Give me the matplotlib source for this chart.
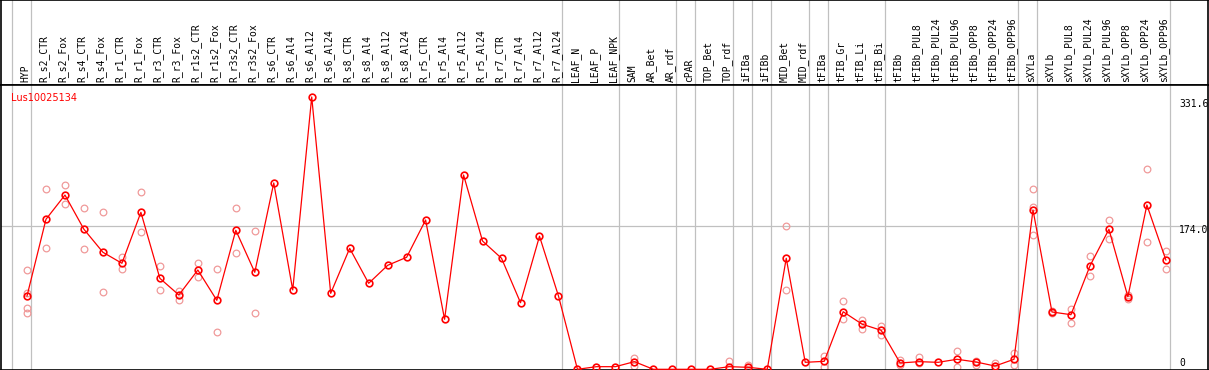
import numpy as np
import matplotlib
matplotlib.use("Agg")
import matplotlib.pyplot as plt

# --- andmed ---
gene = "Lus10025134"
samples = [
    "HYP", "R_s2_CTR", "R_s2_Fox", "R_s4_CTR", "R_s4_Fox", "R_r1_CTR", "R_r1_Fox",
    "R_r3_CTR", "R_r3_Fox", "R_r1s2_CTR", "R_r1s2_Fox", "R_r3s2_CTR", "R_r3s2_Fox",
    "R_s6_CTR", "R_s6_Al4", "R_s6_Al12", "R_s6_Al24", "R_s8_CTR", "R_s8_Al4",
    "R_s8_Al12", "R_s8_Al24", "R_r5_CTR", "R_r5_Al4", "R_r5_Al12", "R_r5_Al24",
    "R_r7_CTR", "R_r7_Al4", "R_r7_Al12", "R_r7_Al24", "LEAF_N", "LEAF_P", "LEAF_NPK",
    "SAM", "AR_Bet", "AR_rdf", "cPAR", "TOP_Bet", "TOP_rdf", "iFIBa", "iFIBb",
    "MID_Bet", "MID_rdf", "tFIBa", "tFIB_Gr", "tFIB_Li", "tFIB_Bi", "tFIBb",
    "tFIBb_PUL8", "tFIBb_PUL24", "tFIBb_PUL96", "tFIBb_OPP8", "tFIBb_OPP24",
    "tFIBb_OPP96", "sXYLa", "sXYLb", "sXYLb_PUL8", "sXYLb_PUL24", "sXYLb_PUL96",
    "sXYLb_OPP8", "sXYLb_OPP24", "sXYLb_OPP96",
]

means = [
    89.3, 182.7, 212.2, 170.5, 142.5, 129.1, 191.2, 110.8, 90.5, 120.9, 84.0, 169.3, 118.1,
    226.9, 96.6, 331.6, 92.5, 147.3, 104.7, 126.6, 136.4, 181.8, 60.9, 236.6, 156.2,
    135.2, 81.1, 162.0, 89.3, 0.0, 3.2, 3.2,
    9.3, 0.0, 0.0, 0.0, 0.0, 3.2, 2.4, 0.0,
    135.2, 8.5, 9.7, 70.1, 54.9, 47.5, 7.7,
    9.3, 8.5, 12.2, 8.9, 4.0, 12.2,
    194.0, 69.8, 66.5, 125.8, 170.5, 88.4, 200.1, 133.1,
]

replicates = [
    [121.4, 93.3, 74.3, 68.2], [219.2, 147.3], [224.4, 201.3], [196.1, 146.1],
    [191.2, 93.8], [137.1, 121.8], [215.9, 166.8], [125.4, 96.6], [95.7, 84.8],
    [129.4, 112.8], [121.8, 45.1], [196.1, 141.3], [168.0, 68.2],
    [], [], [], [], [], [], [], [], [], [], [], [], [], [], [], [], [], [], [],
    [14.1, 4.4], [], [], [], [], [10.1, 0.0], [5.2, 0.0], [],
    [174.5, 96.6], [], [16.2, 3.2], [83.2, 61.6], [60.6, 49.1], [53.3, 41.2], [11.9, 5.2],
    [14.6, 7.3], [], [22.3, 2.4], [10.5, 5.2], [7.3, 1.0], [19.5, 5.2],
    [219.2, 198.0, 163.5], [70.6, 68.2], [73.8, 56.7], [138.0, 113.6], [181.8, 159.0],
    [85.2, 90.5], [243.9, 155.4], [144.1, 121.8],
]

# grupid: eraldusjoon peale nende proovide
group_ends = [0, 1, 29, 32, 35, 36, 38, 39, 40, 42, 43, 46, 53, 54, 61]
y_ticks = [331.6, 174.0, 0]
y_tick_labels = ["331.6", "174.0", "0"]

W, H = 1209, 370
HEAD = 85
RED = "#ff0000"
PINK = "#f09a9a"
GRAY = "#c0c0c0"

x = np.arange(1, len(samples) + 1)

fig = plt.figure(figsize=(W / 100, H / 100), dpi=100)
hdr = fig.add_axes([1 / W, (H - HEAD) / H, 1207 / W, HEAD / H])
ax = fig.add_axes([1 / W, 0, 1207 / W, (H - HEAD) / H])

xlim = (-0.37, 63.22)
for a in (hdr, ax):
    a.set_xlim(*xlim)
    a.set_xticks([])
    a.set_yticks([])
    for s in a.spines.values():
        s.set_color("black")
        s.set_linewidth(1.2)
    for g in group_ends:
        a.axvline(g + 0.2, color=GRAY, lw=0.9, zorder=0)

hdr.set_ylim(0, HEAD)
for xi, name in zip(x, samples):
    hdr.text(xi - 0.1, 2.5, name, rotation=90, ha="center", va="bottom",
             fontsize=7, family="DejaVu Sans Mono", color="black")

ax.set_ylim(-0.85, 346.2)
ax.axhline(174.0, color=GRAY, lw=0.9, zorder=0)

# kordused
for xi, reps in zip(x, replicates):
    if reps:
        ax.plot([xi] * len(reps), reps, "o", ms=4.8, mfc="none", mec=PINK,
                mew=0.9, zorder=2, clip_on=False)

# keskmised
ax.plot(x, means, "-", color=RED, lw=0.9, zorder=3, clip_on=False)
ax.plot(x, means, "o", ms=4.8, mfc="none", mec=RED, mew=1.2, zorder=4, clip_on=False)

ax.text(9.5 / 1207, 1 - 13 / (H - HEAD), gene, transform=ax.transAxes, color=RED,
        fontsize=7, ha="left", va="center")

offsets = [-7, -4, 6]
for val, lab, off in zip(y_ticks, y_tick_labels, offsets):
    ax.annotate(lab, xy=(1, val), xycoords=("axes fraction", "data"),
                xytext=(-29, off), textcoords="offset pixels",
                fontsize=7, family="DejaVu Sans Mono", ha="left", va="center")

fig.savefig("out.png", dpi=100)
